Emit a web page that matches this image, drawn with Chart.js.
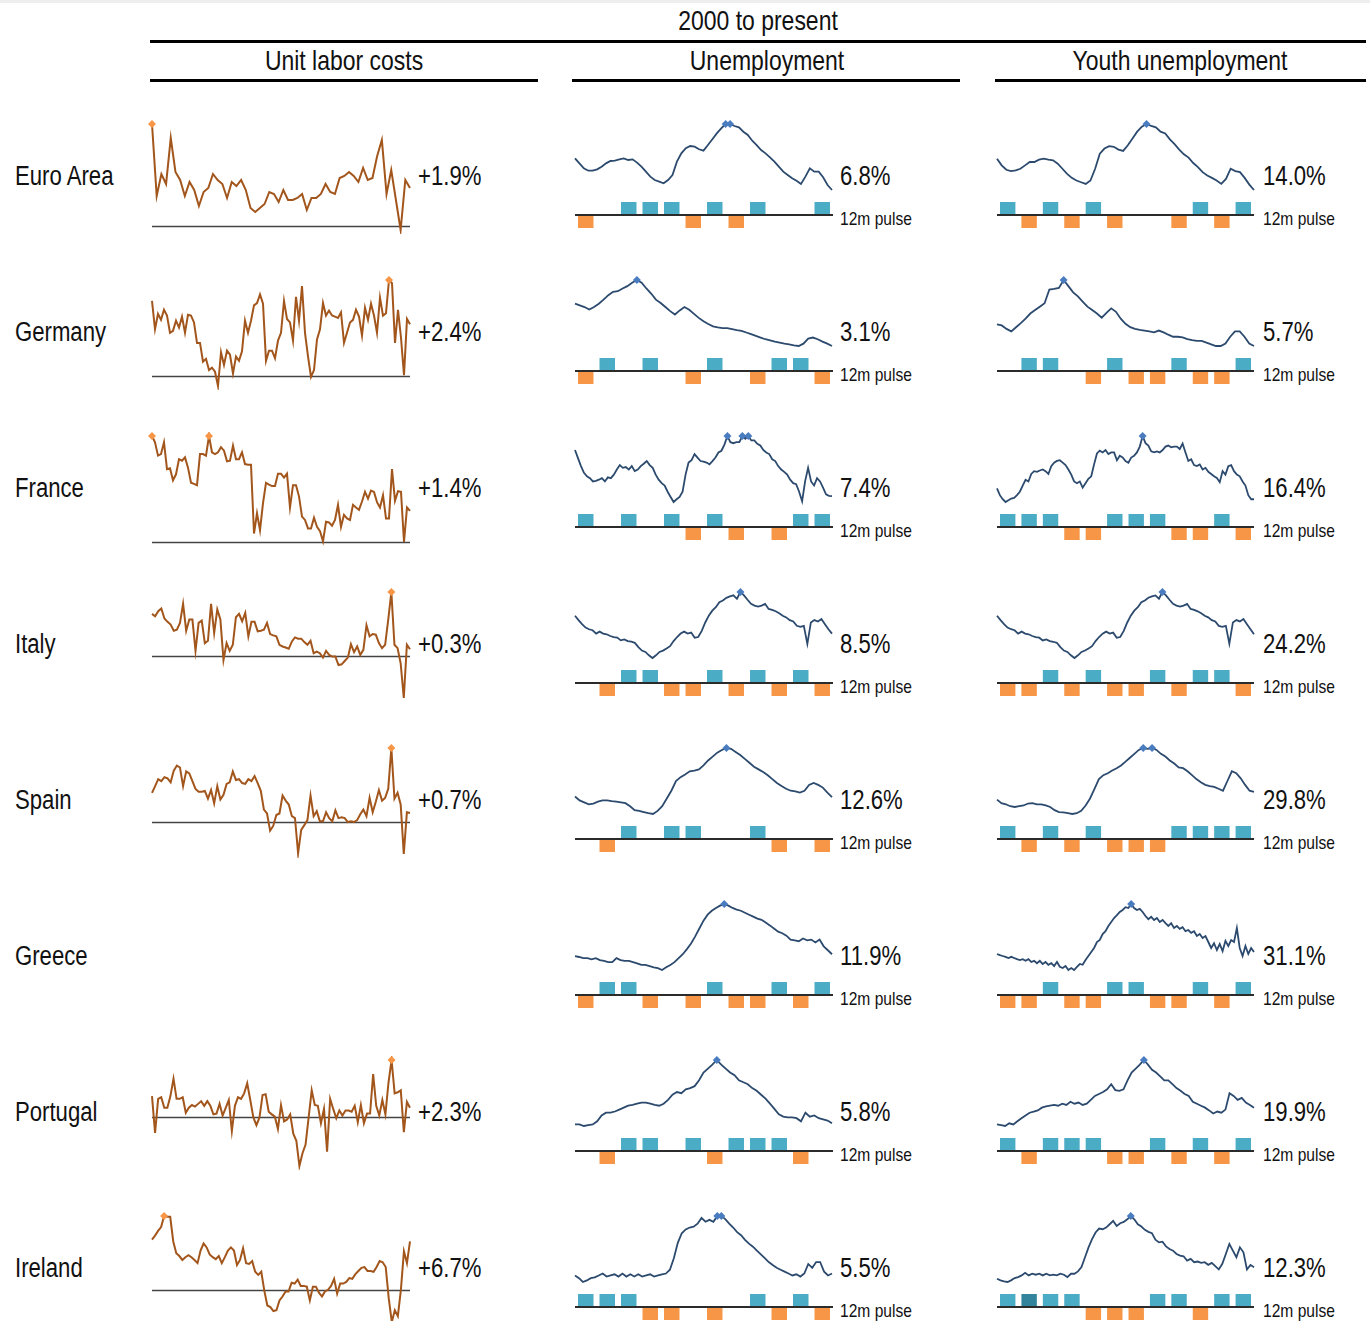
<!DOCTYPE html>
<html>
<head>
<meta charset="utf-8">
<script src="https://cdn.jsdelivr.net/npm/chart.js@4.4.1/dist/chart.umd.min.js"></script>
<style>
  body {
    margin: 0;
    width: 1370px;
    height: 1321px;
    position: relative;
    overflow: hidden;
    background: #fff;
    color: #111;
    font-family: "Liberation Sans", Arial, sans-serif;
  }
  .txt {
    position: absolute;
    white-space: nowrap;
    line-height: 1;
    transform: translateY(-50%) scaleX(0.82);
    transform-origin: left center;
  }
  .txt.mid {
    transform: translate(-50%, -50%) scaleX(0.82);
    transform-origin: 50% 50%;
  }
  .rule {
    position: absolute;
    background: #000;
  }
  canvas {
    position: absolute;
  }
</style>
</head>
<body>
<div style="position:absolute;left:0;top:0;width:1370px;height:3px;background:#eee"></div>
<script>
// row labels and latest values
const countries = ["Euro Area", "Germany", "France", "Italy", "Spain", "Greece", "Portugal", "Ireland"];
const ulcLatest = ["+1.9%", "+2.4%", "+1.4%", "+0.3%", "+0.7%", "", "+2.3%", "+6.7%"];
const unempLatest = ["6.8%", "3.1%", "7.4%", "8.5%", "12.6%", "11.9%", "5.8%", "5.5%"];
const youthLatest = ["14.0%", "5.7%", "16.4%", "24.2%", "29.8%", "31.1%", "19.9%", "12.3%"];

// Unit labor costs, % y/y (quarterly)
const ulcEuroArea = [5.1,1.5,2.6,2.1,4.4,2.7,2.3,1.5,2.2,1.8,1.0,1.7,1.9,2.6,2.3,2.1,1.4,2.2,2.0,2.3,1.8,0.9,0.7,0.9,1.1,1.7,1.6,1.2,1.8,1.3,1.3,1.4,1.6,0.8,1.4,1.4,1.6,2.1,1.7,1.6,2.4,2.5,2.7,2.5,2.2,2.9,2.3,2.4,3.5,4.3,1.6,2.8,1.3,-0.2,2.3,1.9];
const ulcGermany = [3.48,2.16,2.88,2.6,3.07,2.8,2.0,2.09,2.56,2.24,2.75,2.0,2.84,2.8,2.48,1.53,1.53,0.66,0.79,0.27,0.38,0.19,-0.47,1.1,0.51,1.17,0.98,0.11,0.9,0.7,1.14,2.56,2.0,2.56,3.27,3.38,3.78,3.35,0.7,1.17,1.17,0.82,1.64,2.0,3.48,2.64,2.48,1.64,3.67,2.56,4.17,2.0,0.9,-0.05,0.27,1.69,2.16,3.38,2.8,3.03,2.8,2.75,2.69,2.95,1.53,2.0,2.48,2.6,3.07,2.75,1.87,3.16,2.6,3.35,2.8,2.0,3.63,2.8,2.91,4.45,4.3,1.53,3.07,1.77,0.03,2.64,2.4];
const ulcFrance = [4.76,4.48,3.88,3.95,4.48,3.27,3.31,2.77,3.04,3.72,3.65,3.8,3.34,2.66,2.61,2.55,3.95,3.95,3.88,4.76,4.03,3.95,4.03,4.26,4.1,3.62,3.65,4.33,3.72,3.72,4.03,3.5,3.47,3.47,0.38,1.29,0.53,1.75,2.66,2.58,2.51,2.51,3.07,3.07,2.89,3.07,1.55,2.55,2.55,2.05,1.14,0.99,0.61,0.61,1.09,0.68,0.49,0.03,0.91,0.88,0.73,0.99,1.67,0.68,1.22,1.06,0.99,1.67,1.55,1.44,1.82,2.25,1.95,2.31,2.25,1.79,1.55,2.1,1.06,1.06,3.27,1.85,2.28,2.25,0.0,1.55,1.4];
const ulcItaly = [1.98,1.87,2.11,2.24,1.76,1.6,1.47,1.18,1.23,1.55,2.46,1.18,1.71,1.71,0.22,1.55,1.66,0.59,0.7,2.46,1.07,2.19,1.71,-0.21,0.59,0.22,0.51,1.82,1.98,1.63,2.03,0.91,1.6,1.6,1.15,1.18,1.23,1.55,1.02,0.96,0.91,0.51,0.43,0.38,0.32,0.67,0.86,0.8,0.8,0.64,0.51,0.7,0.11,0.19,0.11,-0.1,0.22,0.03,-0.05,-0.05,-0.45,-0.42,-0.26,-0.1,0.54,0.16,0.43,0.03,0.27,1.44,0.91,1.02,0.99,0.59,0.35,0.51,1.71,3.02,0.51,0.35,-0.37,-2.02,0.51,0.3];
const ulcSpain = [2.25,2.76,3.3,3.15,3.45,3.36,3.06,3.96,4.35,4.2,2.76,3.9,3.75,3.15,2.55,2.34,2.34,2.4,1.8,2.46,1.44,2.76,1.74,2.1,2.94,3.06,3.9,3.24,3.3,3.0,2.94,3.3,3.15,3.54,3.0,2.4,0.96,0.66,-0.66,-0.3,0.54,0.66,2.04,1.65,1.35,0.45,0.3,-2.4,-0.6,-0.24,0.15,2.04,0.45,0.84,0.06,0.06,0.75,0.3,0.06,0.9,0.3,0.36,0.3,0.0,0.06,0.0,0.15,0.6,0.96,0.45,1.86,0.75,1.56,2.46,1.65,1.86,2.55,5.7,1.8,2.25,1.35,-2.46,0.75,0.7];
const ulcPortugal = [1.65,-1.2,1.44,1.56,0.75,0.75,1.65,3.0,1.44,1.44,1.56,0.36,0.75,0.96,0.84,1.05,1.26,0.9,1.26,0.9,0.24,0.3,1.05,0.15,0.75,1.35,-1.05,0.9,1.56,1.44,1.86,2.64,1.35,0.0,-0.6,0.0,1.74,1.8,0.45,0.24,0.06,-0.9,0.96,-0.3,-0.15,0.24,-1.26,-1.8,-3.75,-2.76,-2.1,0.0,2.1,0.96,0.9,-0.45,0.66,-2.64,1.44,0.66,-0.06,0.54,0.15,0.54,0.54,0.45,0.9,-0.36,0.96,-0.45,0.3,0.3,3.36,0.9,0.15,1.35,0.24,2.7,4.44,1.86,1.95,2.1,-1.14,1.2,0.75];
const ulcIreland = [7.04,7.59,8.25,8.8,10.34,10.23,10.23,6.77,5.12,4.73,4.18,4.57,4.84,4.57,4.18,3.74,5.5,6.49,5.94,4.95,4.57,4.29,4.73,3.74,4.57,5.5,5.94,5.5,3.47,4.18,5.83,3.74,3.63,4.02,2.53,2.09,2.53,-0.11,-2.2,-2.42,-2.97,-2.86,-1.49,-0.94,-0.22,-0.22,0.99,0.88,1.43,0.55,0.55,0.44,-1.49,0.44,0.44,-0.39,-0.94,-0.22,0,0.55,1.54,-0.55,0.88,0.88,1.1,1.65,1.54,2.2,2.64,3.08,3.19,2.64,2.64,2.53,3.19,4.02,3.85,3.19,-1.21,-4.51,-2.86,-3.69,0,5.39,3.74,6.77];

// Unemployment rate, %
const unempEuroArea = [9.34,8.94,8.54,8.35,8.35,8.46,8.67,8.94,9.13,9.16,9.26,9.34,9.21,9.26,9.0,8.67,8.27,7.87,7.6,7.47,7.34,7.6,8.0,9.08,9.74,10.15,10.33,10.28,10.07,9.96,10.41,10.87,11.35,11.75,12.1,12.1,11.94,11.83,11.48,11.22,10.76,10.41,10.01,9.74,9.42,9.08,8.67,8.27,8.0,7.74,7.55,7.28,7.87,8.54,8.27,8.27,7.82,7.2,6.8];
const unempGermany = [8.36,8.15,7.94,7.64,7.94,8.36,8.86,9.41,9.83,9.91,10.25,10.54,10.96,11.3,10.96,10.25,9.62,8.86,8.44,7.94,7.43,7.01,7.52,7.94,7.6,7.09,6.59,6.17,5.83,5.54,5.41,5.33,5.33,5.2,5.08,4.99,4.78,4.57,4.36,4.15,3.94,3.81,3.65,3.52,3.39,3.31,3.18,3.1,3.39,4.03,4.15,3.94,3.65,3.39,3.1];
const unempFrance = [9.78,9.36,8.95,8.6,8.42,8.33,8.16,8.19,8.25,8.33,8.16,8.37,8.33,8.51,8.77,9.0,8.86,8.9,8.77,8.95,8.69,8.77,8.95,9.07,9.21,9.0,8.86,8.51,8.25,8.07,7.95,7.63,7.36,7.1,7.24,7.36,7.63,8.51,9.13,9.26,9.57,9.39,9.21,9.18,9.13,9.04,9.21,9.39,9.65,9.74,10.06,10.5,10.18,10.13,10.18,10.18,10.5,10.36,10.5,10.27,10.27,10.1,10.01,9.78,9.65,9.57,9.3,9.21,8.95,8.77,8.65,8.51,8.25,8.07,8.02,7.63,7.14,8.16,8.86,8.16,7.95,8.33,8.16,7.84,7.49,7.42,7.4];
const unempItaly = [10.48,9.99,9.54,9.17,8.98,8.87,8.5,8.72,8.5,8.42,8.23,8.12,8.05,7.75,7.86,7.67,7.6,7.48,7.0,6.62,6.47,6.1,5.8,6.1,6.47,6.62,6.85,7.11,7.67,8.12,8.5,8.72,8.5,8.61,8.05,8.12,8.8,9.73,10.48,11.04,11.42,11.98,12.16,12.46,12.61,12.73,12.35,13.1,12.73,12.24,11.79,11.6,11.49,11.6,11.79,11.23,11.12,10.97,10.74,10.48,10.29,9.99,9.84,9.36,9.24,9.36,7.37,9.73,9.99,9.84,10.11,9.54,8.98,8.5];
const unempSpain = [12.77,11.69,11.15,10.6,10.82,11.36,11.69,11.69,11.47,11.36,11.15,10.93,10.06,8.98,8.77,8.44,8.12,7.9,8.77,10.06,12.23,14.39,17.1,18.18,18.94,19.8,20.02,20.34,21.43,22.83,23.91,25.0,25.75,26.3,26.08,25.21,24.35,23.26,22.18,21.1,20.34,19.59,18.72,17.64,16.56,15.69,14.93,14.39,14.18,13.85,14.39,16.02,16.56,16.02,15.26,13.85,12.6];
const unempGreece = [11.29,11.04,10.67,10.67,10.3,10.67,10.06,9.81,9.44,9.44,10.67,10.06,9.81,9.81,9.44,9.08,8.58,8.58,8.22,7.85,7.6,7.0,7.85,8.58,9.44,10.67,11.9,13.5,15.22,17.43,19.88,22.34,24.18,25.41,26.27,27.0,27.5,27.0,26.27,25.78,25.41,24.79,24.18,23.57,22.95,22.58,21.72,20.86,19.88,18.9,18.41,17.67,16.44,16.2,15.95,16.81,16.2,16.44,15.58,16.44,14.36,13.13,11.9];
const unempPortugal = [5.58,5.58,5.29,5.44,5.58,6.16,7.25,7.76,7.76,7.98,8.34,8.7,9.06,9.21,9.43,9.64,9.64,9.43,9.21,9.06,9.43,10.15,11.09,11.6,11.38,12.11,12.33,12.69,13.78,15.23,15.95,16.68,17.55,16.68,15.95,15.23,14.72,13.78,13.41,13.05,12.33,11.82,11.09,10.37,9.43,8.48,7.47,7.03,6.89,6.89,6.74,6.16,7.76,7.03,7.25,6.74,6.53,6.31,5.8];
const unempIreland = [5.16,4.68,4.0,4.28,4.68,4.82,5.16,5.5,4.96,5.16,5.36,4.96,5.5,4.96,5.36,4.96,5.36,4.96,5.16,5.36,4.96,5.16,5.36,5.5,6.18,8.22,10.94,12.64,13.32,13.66,13.8,14.34,15.36,14.68,15.02,14.68,15.7,15.7,15.16,14.34,13.66,12.84,12.3,11.48,10.8,10.26,9.58,8.9,8.22,7.54,7.0,6.52,6.18,5.84,5.5,5.16,5.36,4.96,5.5,7.2,6.52,7.54,7.54,5.84,5.16,5.5];

// Youth unemployment rate, %
const youthEuroArea = [18.94,17.88,17.19,16.97,17.08,17.35,17.88,18.41,18.41,18.78,18.94,18.78,18.67,18.14,17.35,16.55,15.91,15.49,15.22,14.96,15.49,17.35,19.73,20.53,20.9,20.8,20.37,20.16,21.06,22.12,23.19,23.98,24.4,24.09,23.88,23.19,22.92,21.97,21.22,20.37,19.63,19.1,18.25,17.61,16.81,16.28,15.91,15.49,14.96,15.75,17.35,16.97,16.81,15.91,14.85,14.0];
const youthGermany = [8.9,8.75,8.24,7.88,8.49,9.1,9.76,10.52,11.03,11.54,12.05,14.08,14.18,14.33,15.5,14.59,13.67,13.06,12.3,11.54,11.03,10.52,9.91,10.63,11.29,10.78,9.76,9.0,8.49,8.24,8.09,7.99,7.88,7.73,7.99,7.73,7.38,7.07,7.07,6.97,6.72,6.56,6.46,6.46,6.21,5.95,5.7,5.7,6.06,7.07,7.88,7.88,7.07,6.06,5.7];
const youthFrance = [18.06,17.02,16.4,15.98,16.24,16.5,16.61,17.02,17.54,18.48,19.36,19.1,20.24,20.66,20.56,20.76,20.92,20.66,20.24,21.43,21.95,22.21,22.32,21.95,21.59,20.92,20.14,19.1,18.84,19.1,18.16,18.84,19.51,19.88,21.69,23.35,23.77,23.51,23.87,23.25,23.51,23.51,22.32,22.99,22.73,22.21,21.95,22.73,22.99,23.51,24.39,26.0,24.91,24.55,23.67,23.51,23.67,23.51,23.87,24.39,24.55,24.29,24.39,24.39,24.03,24.86,23.51,22.21,22.47,21.59,21.43,21.69,20.92,21.17,20.56,20.24,19.88,19.62,18.99,20.66,20.14,21.43,21.59,20.66,20.14,19.88,19.1,18.48,17.02,16.4,16.4];
const youthItaly = [32.45,30.5,28.7,27.2,26.45,26.0,24.5,25.4,24.5,24.2,23.45,23.0,22.7,21.5,21.95,21.2,20.9,20.45,18.5,17.0,16.4,14.9,13.7,14.9,16.4,17.0,17.9,18.95,21.2,23.0,24.5,25.4,24.5,24.95,22.7,23.0,25.7,29.45,32.45,34.7,36.2,38.45,39.2,40.4,41.0,41.45,39.95,42.95,41.45,39.5,37.7,36.95,36.5,36.95,37.7,35.45,35.0,34.4,33.5,32.45,31.7,30.5,29.9,27.95,27.5,27.95,20.0,29.45,30.5,29.9,30.95,28.7,26.45,24.2];
const youthSpain = [25.28,23.25,22.57,21.44,20.99,21.44,21.89,23.02,23.25,22.57,22.57,21.89,20.99,19.18,18.05,17.82,17.37,16.92,17.37,18.73,21.89,25.96,31.61,37.26,39.52,40.65,42.23,43.59,45.17,47.43,49.69,51.95,54.21,55.34,54.89,55.34,54.21,51.95,50.37,48.11,46.3,44.04,43.59,41.78,39.52,37.26,35.45,33.87,33.19,32.74,31.61,30.48,36.13,41.78,40.65,37.71,33.87,30.48,29.8];
const youthGreece = [29.9,29.18,28.7,28.22,27.5,28.22,27.5,26.78,26.3,26.78,25.82,26.78,25.1,25.82,24.38,25.82,23.9,25.1,23.42,24.38,22.7,25.1,22.22,21.5,22.7,20.3,21.5,20.3,22.22,23.9,23.42,26.3,28.7,31.1,33.5,37.1,38.3,41.9,43.58,46.7,49.1,51.5,53.18,55.1,56.3,57.98,57.5,59.9,57.5,56.3,57.02,55.1,52.7,50.78,52.22,50.3,51.5,49.1,50.3,48.38,46.7,48.38,45.5,46.7,45.02,45.98,43.58,44.3,42.62,43.58,40.7,41.9,39.5,40.7,37.1,33.5,36.38,32.3,35.9,31.58,37.82,34.7,38.3,37.1,45.5,33.5,28.7,34.7,29.9,33.5,31.1];
const youthPortugal = [12.16,11.8,11.44,12.7,12.16,13.6,15.04,16.3,17.56,18.1,18.64,19.9,20.44,20.8,21.16,20.8,21.7,21.16,22.6,21.7,22.24,21.16,21.7,23.5,25.3,26.2,27.1,28.36,30.7,28.0,27.64,28.36,32.5,36.1,37.9,39.7,41.86,39.7,37.36,36.1,34.3,32.5,32.5,30.7,28.9,27.64,26.2,25.3,22.6,21.7,20.8,19.9,18.64,17.2,18.1,17.56,19.0,26.56,25.3,23.5,24.4,22.24,21.16,19.9];
const youthIreland = [8.1,7.5,7.14,6.9,7.5,8.34,8.7,9.3,10.26,9.3,9.9,9.54,9.9,9.3,9.9,9.3,9.54,9.3,9.9,9.54,8.7,9.9,9.9,10.74,12.3,15.9,19.5,22.5,24.9,26.34,26.1,26.7,27.9,29.1,27.3,28.26,28.74,29.7,30.9,29.7,27.9,27.06,25.86,25.14,24.66,22.26,21.3,21.54,19.86,18.9,18.3,17.1,16.5,16.26,14.7,15.3,14.1,14.34,13.86,14.1,13.14,13.86,12.66,11.46,13.5,17.1,20.7,18.3,15.9,19.5,17.7,11.46,13.14,12.3];

// 12m pulse: +1 improving, -1 worsening, 0 flat
const pulseUnempEuroArea = [-1,0,1,1,1,-1,1,-1,1,0,0,1];
const pulseUnempGermany = [-1,1,0,1,0,-1,1,0,-1,1,1,-1];
const pulseUnempFrance = [1,0,1,0,1,-1,1,-1,0,-1,1,1];
const pulseUnempItaly = [0,-1,1,1,-1,-1,1,-1,1,-1,1,-1];
const pulseUnempSpain = [0,-1,1,0,1,1,0,0,1,-1,0,-1];
const pulseUnempGreece = [-1,1,1,-1,0,-1,1,-1,-1,1,-1,1];
const pulseUnempPortugal = [0,-1,1,1,0,1,-1,1,1,1,-1,0];
const pulseUnempIreland = [1,1,1,-1,-1,0,-1,0,1,-1,1,-1];

const pulseYouthEuroArea = [1,-1,1,-1,1,-1,0,0,-1,1,-1,1];
const pulseYouthGermany = [0,1,1,0,-1,1,-1,-1,1,-1,-1,1];
const pulseYouthFrance = [1,1,1,-1,-1,1,1,1,-1,-1,1,-1];
const pulseYouthItaly = [-1,-1,1,-1,1,-1,-1,1,-1,1,1,-1];
const pulseYouthSpain = [1,-1,1,-1,1,-1,-1,-1,1,1,1,1];
const pulseYouthGreece = [-1,-1,1,-1,-1,1,1,-1,-1,1,-1,1];
const pulseYouthPortugal = [1,-1,1,1,1,-1,-1,1,-1,1,-1,1];
const pulseYouthIreland = [1,1,1,1,-1,-1,-1,1,1,-1,1,1];

const ulcSeries = [ulcEuroArea, ulcGermany, ulcFrance, ulcItaly, ulcSpain, null, ulcPortugal, ulcIreland];
const unempSeries = [unempEuroArea, unempGermany, unempFrance, unempItaly, unempSpain, unempGreece, unempPortugal, unempIreland];
const youthSeries = [youthEuroArea, youthGermany, youthFrance, youthItaly, youthSpain, youthGreece, youthPortugal, youthIreland];
const unempPulses = [pulseUnempEuroArea, pulseUnempGermany, pulseUnempFrance, pulseUnempItaly, pulseUnempSpain, pulseUnempGreece, pulseUnempPortugal, pulseUnempIreland];
const youthPulses = [pulseYouthEuroArea, pulseYouthGermany, pulseYouthFrance, pulseYouthItaly, pulseYouthSpain, pulseYouthGreece, pulseYouthPortugal, pulseYouthIreland];

Chart.defaults.devicePixelRatio = 1;

function addText(text, x, y, size, center) {
  const el = document.createElement("div");
  el.className = center ? "txt mid" : "txt";
  el.textContent = text;
  el.style.fontSize = size + "px";
  el.style.left = x + "px";
  el.style.top = y + "px";
  document.body.appendChild(el);
}

function addRule(x1, x2, y, h) {
  const el = document.createElement("div");
  el.className = "rule";
  el.style.left = x1 + "px";
  el.style.width = (x2 - x1) + "px";
  el.style.top = y + "px";
  el.style.height = h + "px";
  document.body.appendChild(el);
}

function addCanvas(x, y, w, h) {
  const c = document.createElement("canvas");
  c.width = w;
  c.height = h;
  c.style.left = x + "px";
  c.style.top = y + "px";
  c.style.width = w + "px";
  c.style.height = h + "px";
  document.body.appendChild(c);
  return c;
}

// horizontal line at value 0 across the plot
const zeroLine = {
  id: "zeroLine",
  beforeDatasetsDraw(chart) {
    const { ctx, chartArea } = chart;
    const y = Math.round(chart.scales.y.getPixelForValue(0)) + 0.5;
    ctx.save();
    ctx.strokeStyle = "#444";
    ctx.lineWidth = 1.5;
    ctx.beginPath();
    ctx.moveTo(chartArea.left, y);
    ctx.lineTo(chartArea.right, y);
    ctx.stroke();
    ctx.restore();
  },
};

const baseline = {
  id: "baseline",
  afterDatasetsDraw(chart) {
    const { ctx, chartArea } = chart;
    const y = chart.scales.y.getPixelForValue(0);
    ctx.save();
    ctx.strokeStyle = "#2b2b2b";
    ctx.lineWidth = 2;
    ctx.beginPath();
    ctx.moveTo(chartArea.left, y);
    ctx.lineTo(chartArea.right, y);
    ctx.stroke();
    ctx.restore();
  },
};

function sparkline(canvas, values, color, markColor, lineWidth, withZero) {
  const hi = Math.max(...values);
  const lo = Math.min(...values);
  return new Chart(canvas, {
    type: "line",
    data: {
      labels: values.map((v, i) => i),
      datasets: [
        {
          data: values,
          borderColor: color,
          borderWidth: lineWidth,
          tension: 0,
          clip: false,
          pointStyle: "rectRot",
          pointRadius: values.map((v) => (v === hi ? 4 : 0)),
          pointBackgroundColor: markColor,
          pointBorderColor: markColor,
          pointBorderWidth: 0,
        },
      ],
    },
    options: {
      responsive: false,
      animation: false,
      events: [],
      layout: { padding: 4 },
      plugins: {
        legend: { display: false },
        tooltip: { enabled: false },
      },
      scales: {
        x: { display: false },
        y: { display: false, min: lo, max: hi },
      },
    },
    plugins: withZero ? [zeroLine] : [],
  });
}

function pulseBars(canvas, pulse, darkIndex) {
  return new Chart(canvas, {
    type: "bar",
    data: {
      labels: pulse.map((v, i) => i),
      datasets: [
        {
          data: pulse,
          backgroundColor: pulse.map((v, i) =>
            v > 0 ? (i === darkIndex ? "#31849b" : "#4bacc6") : "#f79646"
          ),
          barPercentage: 0.72,
          categoryPercentage: 1,
          borderWidth: 0,
        },
      ],
    },
    options: {
      responsive: false,
      animation: false,
      events: [],
      layout: { padding: { top: 1, bottom: 1, left: 0, right: 0 } },
      plugins: { legend: { display: false }, tooltip: { enabled: false } },
      scales: {
        x: { display: false },
        y: { display: false, min: -1, max: 1 },
      },
    },
    plugins: [baseline],
  });
}

// headers
addText("2000 to present", 758, 21, 28, true);
addRule(150, 1366, 40, 3);
addText("Unit labor costs", 344, 61, 28, true);
addText("Unemployment", 767, 61, 28, true);
addText("Youth unemployment", 1180, 61, 28, true);
addRule(150, 538, 79, 3);
addRule(572, 960, 79, 3);
addRule(995, 1366, 79, 3);

countries.forEach((name, i) => {
  const c = 176 + i * 156;
  addText(name, 15, c, 27);

  if (ulcSeries[i]) {
    sparkline(addCanvas(148, c - 56, 266, 114), ulcSeries[i], "#a3561c", "#f79646", 2, true);
    addText(ulcLatest[i], 418, c, 27);
  }

  sparkline(addCanvas(571, c - 56, 265, 74), unempSeries[i], "#2c4a6e", "#4a7cc0", 1.8, false);
  addText(unempLatest[i], 840, c, 27);
  pulseBars(addCanvas(575, c + 25, 258, 28), unempPulses[i], -1);
  addText("12m pulse", 840, c + 42, 19);

  sparkline(addCanvas(993, c - 56, 265, 74), youthSeries[i], "#2c4a6e", "#4a7cc0", 1.8, false);
  addText(youthLatest[i], 1263, c, 27);
  pulseBars(addCanvas(997, c + 25, 257, 28), youthPulses[i], name === "Ireland" ? 1 : -1);
  addText("12m pulse", 1263, c + 42, 19);
});
</script>
</body>
</html>
